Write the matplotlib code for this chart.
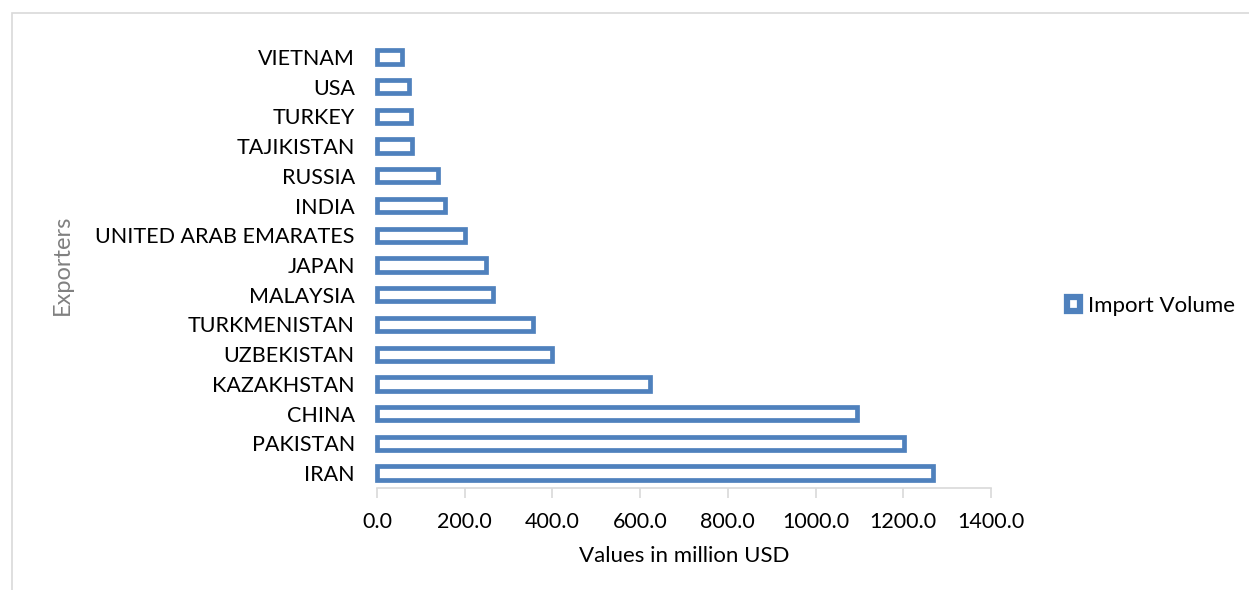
import matplotlib
matplotlib.use("Agg")
import matplotlib.pyplot as plt
from matplotlib.patches import Rectangle, Patch

plt.rcParams['font.family'] = ['Lato', 'DejaVu Sans']

countries = ["IRAN", "PAKISTAN", "CHINA", "KAZAKHSTAN", "UZBEKISTAN",
             "TURKMENISTAN", "MALAYSIA", "JAPAN", "UNITED ARAB EMARATES",
             "INDIA", "RUSSIA", "TAJIKISTAN", "TURKEY", "USA", "VIETNAM"]
import_volume = [1268, 1201, 1095, 623, 400, 356, 265, 249, 201,
                 154, 139, 79, 78, 73, 58]
x_ticks = [0, 200, 400, 600, 800, 1000, 1200, 1400]
x_tick_labels = ["0.0", "200.0", "400.0", "600.0", "800.0", "1000.0", "1200.0", "1400.0"]

W, H = 1249, 590
fig = plt.figure(figsize=(W / 100, H / 100), dpi=100)
fig.patch.set_facecolor("white")

# outer chart-area frame
fig.patches.append(Rectangle((12 / W, -0.1), 1.2, 1 - 13 / H + 0.1,
                             transform=fig.transFigure, fill=False,
                             edgecolor="#D9D9D9", linewidth=1.2))

ax = fig.add_axes([377 / W, 1 - 488 / H, (991 - 377) / W, (488 - 42) / H])
blue = "#4F81BD"
ypos = list(range(len(countries)))
bars = ax.barh(ypos, import_volume, height=0.45, facecolor="white",
               edgecolor=blue, linewidth=3.4, label="Import Volume")
for b in bars:
    b.set_clip_on(False)

ax.set_xlim(0, 1400)
ax.set_ylim(-0.5, len(countries) - 0.5)
ax.set_xticks(x_ticks)
ax.set_xticklabels(x_tick_labels, fontsize=15.5, color="black")
ax.set_yticks(ypos)
ax.set_yticklabels(countries, fontsize=15.5, color="black")
ax.tick_params(axis="y", length=0, pad=16)
ax.tick_params(axis="x", length=7, width=1.2, color="#D9D9D9", pad=10)

for s in ["top", "right", "left"]:
    ax.spines[s].set_visible(False)
ax.spines["bottom"].set_color("#D9D9D9")
ax.spines["bottom"].set_linewidth(1.2)

ax.set_xlabel("Values in million USD", fontsize=16, labelpad=10)
fig.text(62 / W, 1 - 265 / H, "Exporters", rotation=90, fontsize=17,
         color="#808080", ha="center", va="center")

handle = Patch(facecolor="white", edgecolor=blue, linewidth=4.5)
fig.legend([handle], ["Import Volume"], loc="center left",
           bbox_to_anchor=(1058 / W, 1 - 306 / H), frameon=False,
           fontsize=16, handlelength=0.6, handleheight=0.6,
           handletextpad=0.35, borderaxespad=0)

fig.savefig("out.png", dpi=100, facecolor="white")
